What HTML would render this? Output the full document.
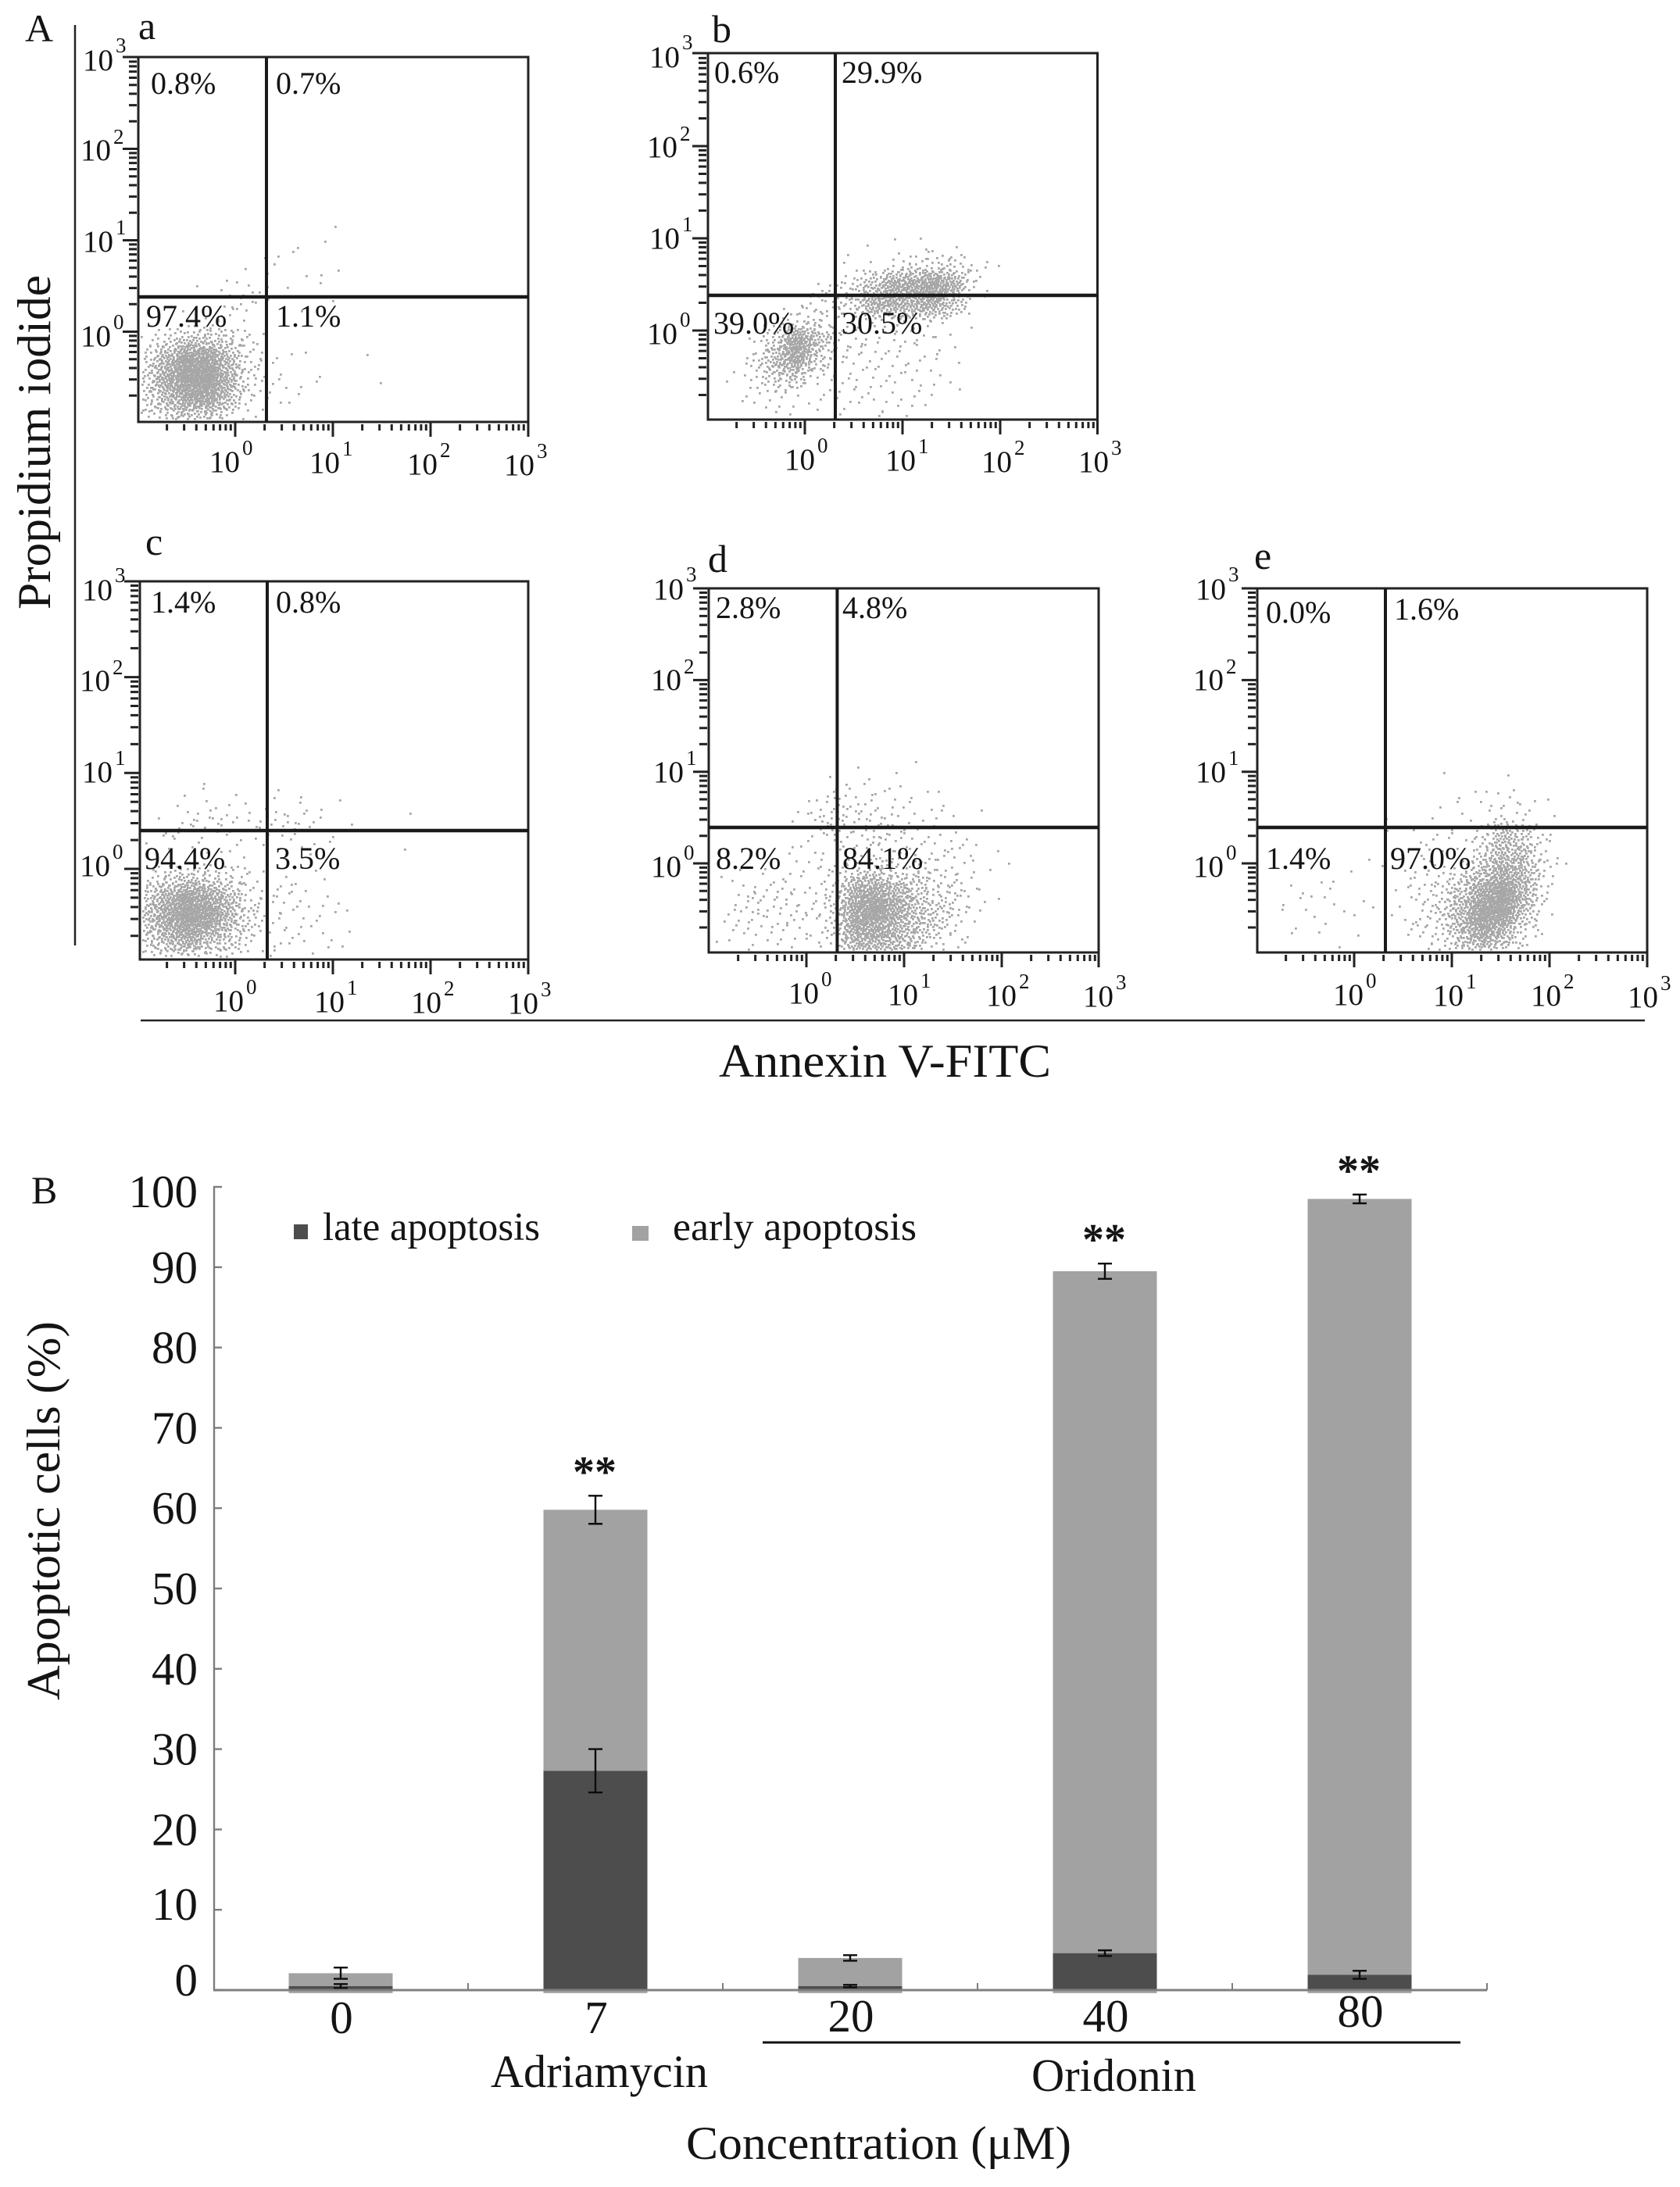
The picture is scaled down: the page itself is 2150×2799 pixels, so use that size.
<!DOCTYPE html>
<html lang="en">
<head>
<meta charset="utf-8">
<title>Apoptosis flow cytometry and stacked bar chart</title>
<style>
html,body{margin:0;padding:0;background:#fff;}
svg{display:block;}
text{font-family:"Liberation Serif","DejaVu Serif",serif;fill:#141414;}
.tick{font-size:39px;}
.tick tspan{font-size:27px;}
.pct{font-size:40px;}
.lab{font-size:50px;}
.big{font-size:60px;}
.bt{font-size:59px;}
</style>
</head>
<body>
<svg id="figure" xmlns="http://www.w3.org/2000/svg" width="2150" height="2799" viewBox="0 0 2150 2799">
<rect x="0" y="0" width="2150" height="2799" fill="#fff"/>
<g id="flow-layer"></g>

<text class="lab" x="32" y="53">A</text>
<text class="lab" x="40" y="1540">B</text>
<line x1="96" y1="32" x2="96" y2="1210" stroke="#222" stroke-width="2.5"/>
<line x1="180" y1="1306" x2="2105" y2="1306" stroke="#222" stroke-width="2.5"/>
<text class="big" transform="translate(64 780) rotate(-90)" textLength="428" lengthAdjust="spacingAndGlyphs">Propidium iodide</text>
<text class="big" x="920" y="1378" textLength="425" lengthAdjust="spacingAndGlyphs">Annexin V-FITC</text>

<!-- panel a text -->
<text class="lab" x="177" y="50">a</text>
<text class="tick" x="106" y="90">10<tspan dx="3" dy="-23">3</tspan></text>
<text class="tick" x="103" y="205">10<tspan dx="3" dy="-21">2</tspan></text>
<text class="tick" x="106" y="322">10<tspan dx="3" dy="-22">1</tspan></text>
<text class="tick" x="103" y="443">10<tspan dx="3" dy="-22">0</tspan></text>
<text class="tick" x="268" y="604">10<tspan dx="3" dy="-22">0</tspan></text>
<text class="tick" x="396" y="605">10<tspan dx="3" dy="-22">1</tspan></text>
<text class="tick" x="521" y="607">10<tspan dx="3" dy="-22">2</tspan></text>
<text class="tick" x="645" y="608">10<tspan dx="3" dy="-22">3</tspan></text>
<text class="pct" x="193" y="120">0.8%</text>
<text class="pct" x="353" y="120">0.7%</text>
<text class="pct" x="187" y="418">97.4%</text>
<text class="pct" x="353" y="418">1.1%</text>

<!-- panel b text -->
<text class="lab" x="911" y="54">b</text>
<text class="tick" x="831" y="86">10<tspan dx="3" dy="-23">3</tspan></text>
<text class="tick" x="828" y="201">10<tspan dx="3" dy="-21">2</tspan></text>
<text class="tick" x="831" y="318">10<tspan dx="3" dy="-22">1</tspan></text>
<text class="tick" x="828" y="440">10<tspan dx="3" dy="-22">0</tspan></text>
<text class="tick" x="1004" y="601">10<tspan dx="3" dy="-22">0</tspan></text>
<text class="tick" x="1133" y="602">10<tspan dx="3" dy="-22">1</tspan></text>
<text class="tick" x="1256" y="604">10<tspan dx="3" dy="-22">2</tspan></text>
<text class="tick" x="1380" y="604">10<tspan dx="3" dy="-22">3</tspan></text>
<text class="pct" x="914" y="106">0.6%</text>
<text class="pct" x="1077" y="106">29.9%</text>
<text class="pct" x="913" y="427">39.0%</text>
<text class="pct" x="1077" y="427">30.5%</text>

<!-- panel c text -->
<text class="lab" x="186" y="710">c</text>
<text class="tick" x="105" y="768">10<tspan dx="3" dy="-23">3</tspan></text>
<text class="tick" x="102" y="884">10<tspan dx="3" dy="-21">2</tspan></text>
<text class="tick" x="105" y="1001">10<tspan dx="3" dy="-22">1</tspan></text>
<text class="tick" x="102" y="1121">10<tspan dx="3" dy="-22">0</tspan></text>
<text class="tick" x="273" y="1294">10<tspan dx="3" dy="-22">0</tspan></text>
<text class="tick" x="402" y="1295">10<tspan dx="3" dy="-22">1</tspan></text>
<text class="tick" x="526" y="1296">10<tspan dx="3" dy="-22">2</tspan></text>
<text class="tick" x="650" y="1297">10<tspan dx="3" dy="-22">3</tspan></text>
<text class="pct" x="193" y="784">1.4%</text>
<text class="pct" x="353" y="784">0.8%</text>
<text class="pct" x="185" y="1112">94.4%</text>
<text class="pct" x="352" y="1112">3.5%</text>

<!-- panel d text -->
<text class="lab" x="906" y="732">d</text>
<text class="tick" x="836" y="767">10<tspan dx="3" dy="-23">3</tspan></text>
<text class="tick" x="833" y="883">10<tspan dx="3" dy="-21">2</tspan></text>
<text class="tick" x="836" y="1001">10<tspan dx="3" dy="-22">1</tspan></text>
<text class="tick" x="833" y="1122">10<tspan dx="3" dy="-22">0</tspan></text>
<text class="tick" x="1009" y="1284">10<tspan dx="3" dy="-22">0</tspan></text>
<text class="tick" x="1136" y="1286">10<tspan dx="3" dy="-22">1</tspan></text>
<text class="tick" x="1262" y="1287">10<tspan dx="3" dy="-22">2</tspan></text>
<text class="tick" x="1386" y="1288">10<tspan dx="3" dy="-22">3</tspan></text>
<text class="pct" x="916" y="791">2.8%</text>
<text class="pct" x="1078" y="791">4.8%</text>
<text class="pct" x="916" y="1112">8.2%</text>
<text class="pct" x="1078" y="1112">84.1%</text>

<!-- panel e text -->
<text class="lab" x="1605" y="728">e</text>
<text class="tick" x="1530" y="767">10<tspan dx="3" dy="-23">3</tspan></text>
<text class="tick" x="1527" y="883">10<tspan dx="3" dy="-21">2</tspan></text>
<text class="tick" x="1530" y="1001">10<tspan dx="3" dy="-22">1</tspan></text>
<text class="tick" x="1527" y="1122">10<tspan dx="3" dy="-22">0</tspan></text>
<text class="tick" x="1706" y="1286">10<tspan dx="3" dy="-22">0</tspan></text>
<text class="tick" x="1834" y="1287">10<tspan dx="3" dy="-22">1</tspan></text>
<text class="tick" x="1959" y="1287">10<tspan dx="3" dy="-22">2</tspan></text>
<text class="tick" x="2083" y="1289">10<tspan dx="3" dy="-22">3</tspan></text>
<text class="pct" x="1620" y="797">0.0%</text>
<text class="pct" x="1784" y="793">1.6%</text>
<text class="pct" x="1620" y="1112">1.4%</text>
<text class="pct" x="1779" y="1112">97.0%</text>

<!-- bar chart -->
<g id="bar-layer"></g>
<rect x="376" y="1567" width="18" height="19" fill="#4d4d4d"/>
<text x="413" y="1587" font-size="51" textLength="278" lengthAdjust="spacingAndGlyphs">late apoptosis</text>
<rect x="809" y="1569" width="21" height="19" fill="#a2a2a2"/>
<text x="861" y="1587" font-size="51" textLength="312" lengthAdjust="spacingAndGlyphs">early apoptosis</text>
<text class="big" transform="translate(76 2176) rotate(-90)" textLength="485" lengthAdjust="spacingAndGlyphs">Apoptotic cells (%)</text>
<line x1="976" y1="2614" x2="1869" y2="2614" stroke="#111" stroke-width="3"/>
<text class="bt" x="628" y="2671" font-size="55" textLength="278" lengthAdjust="spacingAndGlyphs">Adriamycin</text>
<text class="bt" x="1320" y="2676" textLength="211" lengthAdjust="spacingAndGlyphs">Oridonin</text>
<text class="big" x="878" y="2763" textLength="493" lengthAdjust="spacingAndGlyphs">Concentration (μM)</text>
</svg>

<script>
// ---------- Bar chart data (percent of cells) ----------
const categories = ['0', '7', '20', '40', '80'];
const lateValues = [0.5, 27.3, 0.5, 4.6, 1.9];
const earlyValues = [1.6, 32.5, 3.5, 84.9, 96.6];
const lateErrors = [0.25, 2.7, 0.15, 0.35, 0.5];
const earlyErrors = [0.7, 1.75, 0.35, 0.95, 0.55];
const significance = ['', '**', '', '**', '**'];
const yTickLabels = [0, 10, 20, 30, 40, 50, 60, 70, 80, 90, 100];

// ---------- Flow cytometry event-density grids ----------
// Each row spans 0.2 log decades of PI (first row = 10^-1 to 10^-0.8);
// each column spans 0.2 log decades of Annexin V (first column starts at 10^-1).
// Values are estimated event counts per cell.
const panelAEvents = [
  [10,24,36,34,14,4,1,0,0,0,0,0,0,0,0],
  [22,60,110,125,50,10,3,2,1,0,0,0,0,0,0],
  [26,88,165,175,78,14,4,3,1,1,0,0,1,0,0],
  [20,72,145,135,60,12,3,1,1,0,0,0,1,0,0],
  [6,20,40,42,24,8,2,1,0,0,0,0,0,0,0],
  [0,0,2,3,3,3,0,0,0,0,0,0,0,0,0],
  [0,0,0,1,4,7,1,1,1,0,1,0,0,0,0],
  [0,0,0,1,2,4,1,1,1,1,0,0,0,0,0],
  [0,0,0,0,0,1,2,1,1,1,0,0,0,0,0],
  [0,0,0,0,0,0,1,1,1,1,0,0,0,0,0],
  [0,0,0,0,0,0,0,0,0,0,0,0,0,0,0],
  [0,0,0,0,0,0,0,0,0,0,1,0,0,0,0]
];
const panelBEvents = [
  [0,0,1,2,1,2,2,2,2,2,2,1,0,0,0],
  [0,1,4,5,4,3,3,3,3,3,3,2,1,0,0],
  [0,2,10,26,26,6,4,5,3,4,3,3,1,0,0],
  [0,1,10,48,110,28,5,5,5,4,4,3,2,0,0],
  [0,0,4,28,120,50,9,6,5,5,4,4,2,0,0],
  [0,0,0,2,12,14,9,4,4,5,4,3,2,0,0],
  [0,0,1,0,2,7,9,22,80,80,70,90,40,2,0],
  [0,0,0,0,0,3,8,12,42,90,100,125,75,8,1],
  [0,0,0,0,0,0,1,1,3,8,14,16,16,8,1],
  [0,0,0,0,0,0,0,0,1,1,1,2,2,0,0]
];
const panelCEvents = [
  [8,16,20,16,8,4,3,2,2,1,1,1,0,0,0],
  [30,60,105,60,32,13,5,3,2,2,1,0,0,0,0],
  [46,105,170,140,65,18,6,4,3,2,1,1,0,0,0],
  [38,85,145,110,56,15,6,5,3,3,1,0,0,0,0],
  [10,24,32,26,16,5,3,3,2,1,0,0,0,0,0],
  [0,0,1,0,1,3,0,0,1,0,0,0,0,1,0],
  [2,3,3,3,2,2,2,2,3,2,1,0,0,0,0],
  [1,3,5,6,6,6,5,8,4,2,1,1,0,1,0],
  [0,0,2,2,3,1,2,2,2,0,1,0,0,0,0],
  [0,0,1,1,0,0,0,0,0,0,0,0,0,0,0]
];
const panelDEvents = [
  [0,2,2,2,2,3,10,56,62,48,26,10,3,0,0],
  [2,4,5,6,5,4,15,95,105,68,36,18,8,1,0],
  [2,5,7,7,6,5,15,115,150,85,44,24,12,3,0],
  [1,5,6,6,5,5,12,80,105,60,32,16,12,4,1],
  [0,1,2,2,3,3,6,22,26,16,14,10,7,3,1],
  [0,0,0,1,1,3,5,6,5,6,8,6,4,2,2],
  [0,0,0,0,1,3,6,5,12,8,4,5,3,1,0],
  [0,0,0,0,2,8,16,8,8,5,4,3,1,1,0],
  [0,0,0,0,0,3,8,6,4,3,2,1,1,0,0],
  [0,0,0,0,0,0,2,2,2,1,1,0,0,0,0],
  [0,0,0,0,0,0,0,0,0,0,1,0,0,0,0]
];
const panelEEvents = [
  [0,0,1,1,1,0,0,1,2,5,28,52,30,5,0,0],
  [0,1,1,2,1,1,0,2,6,16,55,115,72,18,2,0],
  [1,1,2,2,1,1,0,3,7,16,60,140,150,48,4,0],
  [0,2,1,2,1,1,0,3,8,14,34,100,150,70,10,0],
  [0,0,0,1,0,1,1,2,6,8,14,45,85,58,14,1],
  [0,0,0,0,0,0,1,1,2,1,2,16,60,42,10,1],
  [0,0,0,0,0,0,1,1,3,4,2,10,48,32,8,0],
  [0,0,0,0,0,0,0,0,0,3,2,2,6,3,2,0],
  [0,0,0,0,0,0,0,0,0,1,1,2,4,4,1,0],
  [0,0,0,0,0,0,0,0,0,1,1,0,0,1,0,0],
  [0,0,0,0,0,0,0,0,0,0,0,0,0,0,0,0]
];

const NS = 'http://www.w3.org/2000/svg';
function make(tag, attrs, parent) {
  const node = document.createElementNS(NS, tag);
  for (const k in attrs) node.setAttribute(k, attrs[k]);
  parent.appendChild(node);
  return node;
}

// ---------- Flow panels ----------
const panelLayouts = [
  {id:'a', events:panelAEvents, left:177, right:676, top:73, bottom:540, x0:301, xDec:125, y0:424.5, yDec:117, gateX:341, gateY:380},
  {id:'b', events:panelBEvents, left:906, right:1404.5, top:68, bottom:537, x0:1030, xDec:125, y0:423, yDec:118, gateX:1069, gateY:378},
  {id:'c', events:panelCEvents, left:179, right:676, top:744, bottom:1228, x0:301, xDec:125, y0:1112, yDec:122.7, gateX:342, gateY:1063},
  {id:'d', events:panelDEvents, left:907, right:1406, top:753, bottom:1219, x0:1032, xDec:125, y0:1105, yDec:117.3, gateX:1071.4, gateY:1059},
  {id:'e', events:panelEEvents, left:1609, right:2108, top:753, bottom:1219, x0:1733, xDec:125, y0:1105, yDec:117.3, gateX:1773, gateY:1059}
];

// maps an even 0..1 position to a tent-shaped -1..1 spread so neighbouring cells blend
function tent(u) {
  return u < 0.5 ? Math.sqrt(2 * u) - 1 : 1 - Math.sqrt(2 * (1 - u));
}

const flowLayer = document.getElementById('flow-layer');
panelLayouts.forEach(function (p) {
  const xAt = function (logValue) { return p.x0 + logValue * p.xDec; };
  const yAt = function (logValue) { return p.y0 - logValue * p.yDec; };

  // events: each grid cell's count becomes that many dots, spread evenly around the cell centre
  let dots = '';
  p.events.forEach(function (row, r) {
    row.forEach(function (count, c) {
      for (let k = 1; k <= count; k++) {
        const u = (0.7549 * k + 0.37 * c + 0.61 * r) % 1;
        const v = (0.5698 * k + 0.23 * c + 0.47 * r) % 1;
        const logX = -1 + 0.2 * (c + 0.5 + tent(u));
        const logY = -1 + 0.2 * (r + 0.5 + tent(v));
        const px = Math.round(xAt(logX));
        const py = Math.round(yAt(logY));
        if (px > p.left + 2 && px < p.right - 4 && py > p.top + 2 && py < p.bottom - 4) {
          dots += 'M' + px + ' ' + py + 'h2.8v2.8h-2.8z';
        }
      }
    });
  });
  const eventsPath = make('path', {d: dots, fill: '#a6a6a6'}, flowLayer);
  
  

  // log ticks
  let yTicks = '';
  let xTicks = '';
  for (let d = -1; d < 3; d++) {
    for (let m = 1; m < 10; m++) {
      const lg = d + Math.log10(m);
      if (m === 1) {
        if (d >= 0) {
          yTicks += 'M' + (p.left - 20) + ' ' + yAt(lg) + 'H' + p.left;
          xTicks += 'M' + xAt(lg) + ' ' + p.bottom + 'v19';
        }
      } else {
        yTicks += 'M' + (p.left - 12) + ' ' + yAt(lg) + 'H' + (p.left - 2);
        xTicks += 'M' + xAt(lg) + ' ' + (p.bottom + 3) + 'v8';
      }
    }
  }
  yTicks += 'M' + (p.left - 20) + ' ' + p.top + 'H' + p.left;
  xTicks += 'M' + p.right + ' ' + p.bottom + 'v19';
  const yTickPath = make('path', {d: yTicks, stroke: '#222', 'stroke-width': 3, fill: 'none'}, flowLayer);
  
  
  const xTickPath = make('path', {d: xTicks, stroke: '#222', 'stroke-width': 3, fill: 'none'}, flowLayer);
  
  

  // frame and quadrant gates
  const frame = make('rect', {x: p.left, y: p.top, width: p.right - p.left, height: p.bottom - p.top, fill: 'none', stroke: '#222', 'stroke-width': 3}, flowLayer);
  
  
  const gateV = make('line', {x1: p.gateX, x2: p.gateX, y1: p.top, y2: p.bottom, stroke: '#1a1a1a', 'stroke-width': 4}, flowLayer);
  
  
  const gateH = make('line', {x1: p.left, x2: p.right, y1: p.gateY, y2: p.gateY, stroke: '#1a1a1a', 'stroke-width': 4.4}, flowLayer);
  
  
});

// ---------- Bar chart ----------
const barLayer = document.getElementById('bar-layer');
const plotLeft = 273;
const plotRight = 1903;
const plotZero = 2547;
const pxPerPercent = 10.28;
const barWidth = 133;
const yScale = function (v) { return plotZero - v * pxPerPercent; };
const xBand = (plotRight - plotLeft) / categories.length;
const xScale = function (i) { return plotLeft + xBand * (i + 0.5); };

function errorBar(cx, center, err, label) {
  const top = yScale(center + err);
  const bottom = yScale(center - err);
  const d = 'M' + cx + ' ' + top + 'V' + bottom + 'M' + (cx - 9) + ' ' + top + 'h18M' + (cx - 9) + ' ' + bottom + 'h18';
  const path = make('path', {d: d, stroke: '#0c0c0c', 'stroke-width': 2.4, fill: 'none'}, barLayer);
  
  
}

categories.forEach(function (cat, i) {
  const cx = xScale(i);
  const total = lateValues[i] + earlyValues[i];
  const early = make('rect', {x: cx - barWidth / 2, y: yScale(total), width: barWidth, height: yScale(lateValues[i]) - yScale(total), fill: '#a2a2a2'}, barLayer);
  
  
  const late = make('rect', {x: cx - barWidth / 2, y: yScale(lateValues[i]), width: barWidth, height: yScale(0) - yScale(lateValues[i]), fill: '#4d4d4d'}, barLayer);
  
  
  const foot = make('rect', {x: cx - barWidth / 2, y: plotZero, width: barWidth, height: 4, fill: '#a9a9a9'}, barLayer);
  
  
  errorBar(cx, total, earlyErrors[i], 'early-error-bar-' + cat);
  errorBar(cx, lateValues[i], lateErrors[i], 'late-error-bar-' + cat);

  const catLabel = make('text', {x: cx + 1, y: i === 4 ? 2594 : (i < 2 ? 2602 : 2600), 'text-anchor': 'middle', 'font-size': 59}, barLayer);
  catLabel.textContent = cat;
  
  

  if (significance[i]) {
    const star = make('text', {x: cx - 1, y: yScale(total + earlyErrors[i]) - 12, 'text-anchor': 'middle', 'font-size': 56, 'font-weight': 'bold'}, barLayer);
    star.textContent = significance[i];
    
    
  }
});

// axes
const yAxis = make('line', {x1: plotLeft + 1, x2: plotLeft + 1, y1: yScale(100), y2: plotZero, stroke: '#7d7d7d', 'stroke-width': 2.4}, barLayer);


const xAxis = make('line', {x1: plotLeft, x2: plotRight, y1: plotZero, y2: plotZero, stroke: '#808080', 'stroke-width': 3}, barLayer);



yTickLabels.forEach(function (v) {
  const mark = make('line', {x1: plotLeft, x2: plotLeft + 11, y1: yScale(v), y2: yScale(v), stroke: '#7d7d7d', 'stroke-width': 2.4}, barLayer);
  
  
  const nudge = v === 100 ? 26 : (v === 0 ? 7 : (v === 10 ? 13 : 20));
  const label = make('text', {x: 253, y: yScale(v) + nudge, 'text-anchor': 'end', 'font-size': 59, fill: '#222'}, barLayer);
  label.textContent = String(v);
  
  
});

categories.forEach(function (cat, i) {
  const bx = plotLeft + xBand * (i + 1);
  const sep = make('line', {x1: bx, x2: bx, y1: plotZero, y2: plotZero - 9, stroke: '#7d7d7d', 'stroke-width': 2}, barLayer);
  
  
});
</script>
</body>
</html>
